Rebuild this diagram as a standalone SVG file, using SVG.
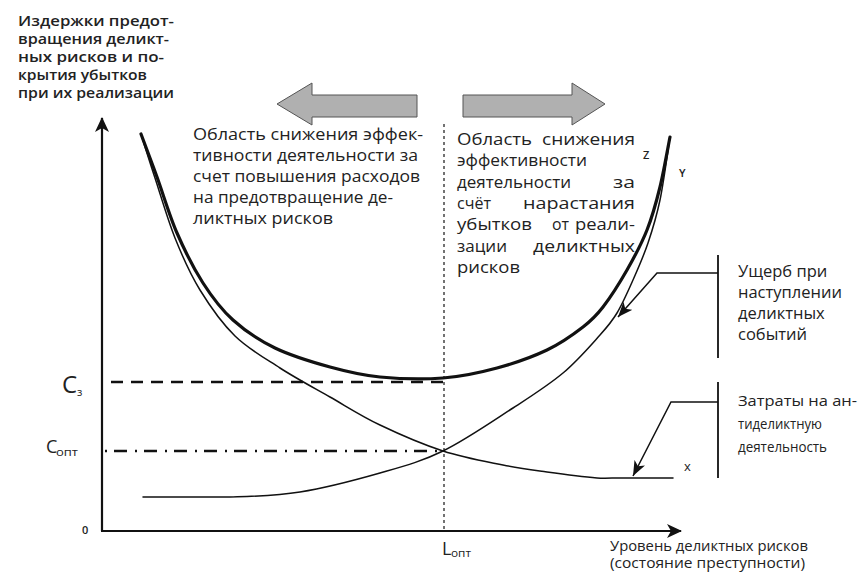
<svg xmlns="http://www.w3.org/2000/svg" width="858" height="572" viewBox="0 0 858 572">
<style>
  text { font-family: "Open Sans", "Noto Sans", "DejaVu Sans", sans-serif; fill: #222; }
  .body { font-size: 17px; }
  .lbl { font-size: 16.5px; }
  .small { font-size: 15px; }
  .axt { font-size: 14px; }
  .title { font-size: 15px; font-weight: 600; }
  .tiny { font-size: 11px; font-weight: 600; }
  .curve { fill: none; stroke: #111; stroke-linecap: round; stroke-linejoin: round; }
  .thick { stroke-width: 3.2; }
  .thin { stroke-width: 1.5; }
  .axis { stroke: #111; stroke-width: 2.2; fill: none; }
  .leader { fill: none; stroke: #111; stroke-width: 1.5; }
  .bracket { fill: none; stroke: #111; stroke-width: 1.8; }
  .bigarrow { fill: #b0b0b0; stroke: #555; stroke-width: 1; }
</style>
<defs>
  <marker id="axisHead" markerWidth="16" markerHeight="14" refX="14" refY="7" orient="auto" markerUnits="userSpaceOnUse">
    <path d="M0,0 L15,7 L0,14 L4,7 Z" fill="#111"/>
  </marker>
  <marker id="leadHead" markerWidth="16" markerHeight="12" refX="15" refY="6" orient="auto" markerUnits="userSpaceOnUse">
    <path d="M0,0 L15,6 L0,12 L4,6 Z" fill="#111"/>
  </marker>
</defs>
<rect x="0" y="0" width="858" height="572" fill="#ffffff"/>

<g id="y-axis-title">
  <text class="title" x="18" y="26" textLength="156" lengthAdjust="spacingAndGlyphs">Издержки предот-</text>
  <text class="title" x="18" y="44" textLength="151" lengthAdjust="spacingAndGlyphs">вращения деликт-</text>
  <text class="title" x="18" y="62" textLength="146" lengthAdjust="spacingAndGlyphs">ных рисков и по-</text>
  <text class="title" x="18" y="80" textLength="129" lengthAdjust="spacingAndGlyphs">крытия убытков</text>
  <text class="title" x="18" y="98" textLength="156" lengthAdjust="spacingAndGlyphs">при их реализации</text>
</g>

<g id="arrow-left">
  <polygon class="bigarrow" points="277,104 312,83 312,95 417,95 417,117 312,117 312,125"/>
</g>
<g id="arrow-right">
  <polygon class="bigarrow" points="605,104 572,83 572,95 463,95 463,117 572,117 572,125"/>
</g>

<g id="text-left">
  <text class="body" x="193" y="140" textLength="230" lengthAdjust="spacingAndGlyphs">Область снижения эффек-</text>
  <text class="body" x="193" y="161" textLength="225" lengthAdjust="spacingAndGlyphs">тивности деятельности за</text>
  <text class="body" x="193" y="182" textLength="227" lengthAdjust="spacingAndGlyphs">счет повышения расходов</text>
  <text class="body" x="193" y="203" textLength="200" lengthAdjust="spacingAndGlyphs">на предотвращение де-</text>
  <text class="body" x="193" y="224" textLength="140" lengthAdjust="spacingAndGlyphs">ликтных рисков</text>
</g>

<g id="text-right">
  <text class="body" x="457" y="145" textLength="75" lengthAdjust="spacingAndGlyphs">Область</text>
  <text class="body" x="542" y="145" textLength="93" lengthAdjust="spacingAndGlyphs">снижения</text>
  <text class="body" x="457" y="166" textLength="130" lengthAdjust="spacingAndGlyphs">эффективности</text>
  <text class="body" x="457" y="188">деятельности</text>
  <text class="body" x="613" y="188" textLength="22" lengthAdjust="spacingAndGlyphs">за</text>
  <text class="body" x="457" y="209" textLength="34" lengthAdjust="spacingAndGlyphs">счёт</text>
  <text class="body" x="523" y="209" textLength="112" lengthAdjust="spacingAndGlyphs">нарастания</text>
  <text class="body" x="457" y="230" textLength="75" lengthAdjust="spacingAndGlyphs">убытков</text>
  <text class="body" x="552" y="230" textLength="17" lengthAdjust="spacingAndGlyphs">от</text>
  <text class="body" x="575" y="230" textLength="60" lengthAdjust="spacingAndGlyphs">реали-</text>
  <text class="body" x="457" y="252" textLength="50" lengthAdjust="spacingAndGlyphs">зации</text>
  <text class="body" x="533" y="252" textLength="102" lengthAdjust="spacingAndGlyphs">деликтных</text>
  <text class="body" x="457" y="273" textLength="63" lengthAdjust="spacingAndGlyphs">рисков</text>
</g>

<g id="axes">
  <line class="axis" x1="102" y1="531" x2="102" y2="118" marker-end="url(#axisHead)"/>
  <line class="axis" x1="101" y1="531" x2="681" y2="531" marker-end="url(#axisHead)"/>
  <text class="tiny" x="82" y="534">0</text>
</g>

<g id="guides">
  <line x1="444" y1="124" x2="444" y2="531" stroke="#444" stroke-width="1.5" stroke-dasharray="3,3"/>
  <line x1="111" y1="382" x2="443" y2="382" stroke="#111" stroke-width="2.5" stroke-dasharray="12,8"/>
  <line x1="105" y1="451" x2="443" y2="451" stroke="#111" stroke-width="2.5" stroke-dasharray="2,7,13,8"/>
</g>

<g id="level-labels">
  <text x="62" y="393" style="font-size:24px">C</text>
  <text x="77" y="396" style="font-size:11px">з</text>
  <text x="46" y="453" style="font-size:18px">C</text>
  <text x="56" y="456" style="font-size:11px" textLength="22" lengthAdjust="spacingAndGlyphs">опт</text>
  <text x="442" y="555" style="font-size:18px">L</text>
  <text x="451" y="557" style="font-size:11px" textLength="20" lengthAdjust="spacingAndGlyphs">опт</text>
</g>

<g id="curve-Z">
  <path class="curve thick" d="M141,134 C143.7,141.2 151,160.5 157,177 C163,193.5 169.3,215.3 177,233 C184.7,250.7 193.7,268.5 203,283 C212.3,297.5 221,309.2 233,320 C245,330.8 258.8,340.2 275,348 C291.2,355.8 312.5,362.2 330,367 C347.5,371.8 361.2,375.2 380,377 C398.8,378.8 423.5,379.5 443,378 C462.5,376.5 479.7,372.7 497,368 C514.3,363.3 532.7,356.8 547,350 C561.3,343.2 573.7,334.2 583,327 C592.3,319.8 595.7,316.5 603,307 C610.3,297.5 619.7,282.8 627,270 C634.3,257.2 641.5,243.8 647,230 C652.5,216.2 656.2,202.5 660,187 C663.8,171.5 668.3,145.3 670,137"/>
  <text class="tiny" x="643" y="159">Z</text>
</g>

<g id="curve-X">
  <path class="curve thin" d="M141,134 C143.3,141.3 149.3,160.7 155,178 C160.7,195.3 167.5,219.3 175,238 C182.5,256.7 190,273.7 200,290 C210,306.3 221.7,323 235,336 C248.3,349 264.2,357.8 280,368 C295.8,378.2 313.3,387.5 330,397 C346.7,406.5 361.2,416 380,425 C398.8,434 422.5,444.3 443,451 C463.5,457.7 485.7,461.5 503,465 C520.3,468.5 531.3,469.8 547,472 C562.7,474.2 584.8,477 597,478 C605,478.5 612,478 620,478 L673,478"/>
  <text x="684" y="471" style="font-size:13px">x</text>
</g>

<g id="curve-Y">
  <path class="curve thin" d="M143,497 C157.5,497 203.8,497 230,497 C256.2,496.2 275,496 300,492 C325,488 356.2,479.8 380,473 C403.8,466.2 420.8,461.8 443,451 C465.2,440.2 493,421 513,408 C533,395 548.5,385.2 563,373 C577.5,360.8 591,345 600,335 C609,325 611.5,322.2 617,313 C622.5,303.8 627.8,291.7 633,280 C638.2,268.3 643.5,256.3 648,243 C652.5,229.7 656.3,217.7 660,200 C663.7,182.3 668.3,147.5 670,137"/>
  <text class="tiny" x="679" y="177">Y</text>
</g>

<g id="label-damage">
  <line class="bracket" x1="718" y1="255" x2="718" y2="358"/>
  <polyline class="leader" points="718,273 657,273 618,317" marker-end="url(#leadHead)"/>
  <text class="lbl" x="738" y="277">Ущерб при</text>
  <text class="lbl" x="738" y="298">наступлении</text>
  <text class="lbl" x="738" y="319">деликтных</text>
  <text class="lbl" x="738" y="340">событий</text>
</g>

<g id="label-costs">
  <line class="bracket" x1="718" y1="382" x2="718" y2="478"/>
  <polyline class="leader" points="718,402 671,402 633,476" marker-end="url(#leadHead)"/>
  <text class="small" x="738" y="406" textLength="119" lengthAdjust="spacingAndGlyphs">Затраты на ан-</text>
  <text class="small" x="738" y="429" textLength="84" lengthAdjust="spacingAndGlyphs">тиделиктную</text>
  <text class="small" x="738" y="452" textLength="89" lengthAdjust="spacingAndGlyphs">деятельность</text>
</g>

<g id="x-axis-title">
  <text class="axt" x="610" y="551" textLength="198" lengthAdjust="spacingAndGlyphs">Уровень деликтных рисков</text>
  <text class="axt" x="610" y="568" textLength="195" lengthAdjust="spacingAndGlyphs">(состояние преступности)</text>
</g>
</svg>
